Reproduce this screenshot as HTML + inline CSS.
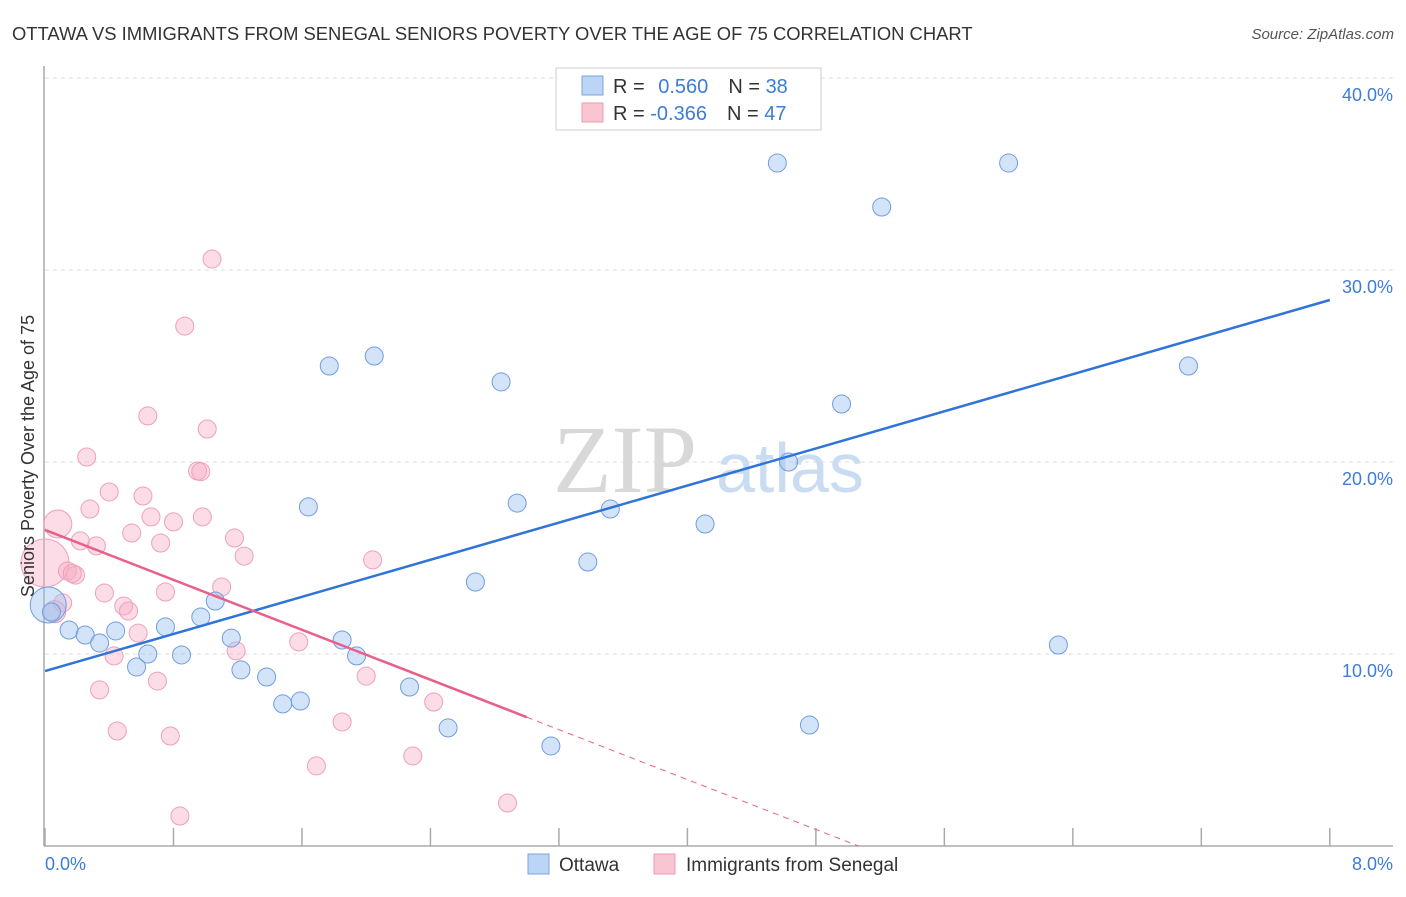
<!DOCTYPE html>
<html><head><meta charset="utf-8"><style>
body{margin:0;background:#fff;font-family:"Liberation Sans",sans-serif}
</style></head><body>
<svg width="1406" height="892" xmlns="http://www.w3.org/2000/svg" id="chart">
<text x="12" y="40" font-size="18.4" fill="#333">OTTAWA VS IMMIGRANTS FROM SENEGAL SENIORS POVERTY OVER THE AGE OF 75 CORRELATION CHART</text>
<text x="1394" y="39" font-size="15" fill="#555" font-style="italic" text-anchor="end">Source: ZipAtlas.com</text>
<g>
<text x="553" y="492" font-size="96" font-family="Liberation Serif,serif" fill="#d8d8d8">ZIP</text>
<text x="716" y="492" font-size="70" fill="#c9dcf2">atlas</text>
</g>
<g id="grid"></g>
<g id="axes"></g>
<g id="marks"></g>
<text transform="translate(34,456) rotate(-90)" font-size="18" fill="#333" text-anchor="middle">Seniors Poverty Over the Age of 75</text>
<g>
<rect x="556" y="68" width="265" height="62" fill="#fff" stroke="#ccc"/>
<rect x="582" y="76" width="21" height="19" fill="#bcd4f5" stroke="#7aa5e0"/>
<rect x="582" y="103" width="21" height="19" fill="#fac5d3" stroke="#ee9ab3"/>
<text x="613" y="93" font-size="20" fill="#333">R = <tspan fill="#3b7dd8" dx="8">0.560</tspan><tspan dx="20" fill="#333">N = </tspan><tspan fill="#3b7dd8">38</tspan></text>
<text x="613" y="120" font-size="20" fill="#333">R = <tspan fill="#3b7dd8">-0.366</tspan><tspan dx="20" fill="#333">N = </tspan><tspan fill="#3b7dd8">47</tspan></text>
</g>
<g>
<rect x="528" y="854" width="21" height="20" fill="#bcd4f5" stroke="#7aa5e0"/>
<text x="559" y="871" font-size="19" fill="#333">Ottawa</text>
<rect x="654" y="854" width="21" height="20" fill="#fac5d3" stroke="#ee9ab3"/>
<text x="686" y="871" font-size="19" fill="#333">Immigrants from Senegal</text>
</g>
<text x="45" y="870" font-size="18" fill="#3b7dd8">0.0%</text>
<text x="1393" y="870" font-size="18" fill="#3b7dd8" text-anchor="end">8.0%</text>
</svg>
<script>
const yTicks=[10,20,30,40];
const yTickLabels=["10.0%","20.0%","30.0%","40.0%"];
const xTicks=[0,0.8,1.6,2.4,3.2,4.0,4.8,5.6,6.4,7.2,8.0];
const ottawaX=[0.02,0.04,0.15,0.25,0.34,0.44,0.57,0.64,0.75,0.85,0.97,1.06,1.16,1.22,1.38,1.48,1.59,1.64,1.77,1.85,1.94,2.05,2.27,2.51,2.68,2.84,2.94,3.15,3.38,3.52,4.11,4.56,4.63,4.76,4.96,5.21,6.00,6.31,7.12];
const ottawaY=[12.55,12.19,11.25,10.99,10.57,11.20,9.32,10.0,11.41,9.95,11.93,12.76,10.83,9.17,8.80,7.40,7.55,17.66,25.0,10.73,9.90,25.52,8.28,6.15,13.75,24.17,17.86,5.21,14.79,17.55,16.77,35.57,20.0,6.30,23.02,33.28,35.57,10.47,25.0];
const ottawaR=[18,9,9,9,9,9,9,9,9,9,9,9,9,9,9,9,9,9,9,9,9,9,9,9,9,9,9,9,9,9,9,9,9,9,9,9,9,9,9];
const senegalX=[0.64,1.01,0.26,0.95,0.40,0.61,0.28,0.66,0.80,0.98,0.08,0.54,0.72,0.22,0.32,1.18,1.24,2.04,0.0,0.14,0.19,0.37,0.75,1.10,0.11,0.49,0.52,0.58,1.58,1.19,0.43,2.00,0.70,0.34,2.42,1.85,0.45,0.78,2.29,1.69,0.84,1.04,0.87,2.88,0.06,0.97,0.17];
const senegalY=[22.40,21.72,20.26,19.53,18.44,18.23,17.55,17.14,16.88,17.14,16.77,16.30,15.78,15.89,15.63,16.04,15.10,14.90,14.74,14.32,14.11,13.18,13.23,13.49,12.66,12.50,12.24,11.09,10.63,10.16,9.90,8.85,8.59,8.13,7.50,6.46,5.99,5.73,4.69,4.17,1.56,30.57,27.08,2.24,12.2,19.5,14.2];
const senegalR=[9,9,9,9,9,9,9,9,9,9,14,9,9,9,9,9,9,9,24,9,9,9,9,9,9,9,9,9,9,9,9,9,9,9,9,9,9,9,9,9,9,9,9,9,11,9,9];
const blueLine=[9.11,2.416];
const pinkLine=[16.46,-3.25,3.0];
const NS="http://www.w3.org/2000/svg";
const X=v=>45+v*160.6, Y=v=>846-v*19.2;
function mk(tag,attrs,parent){const e=document.createElementNS(NS,tag);for(const k in attrs)e.setAttribute(k,attrs[k]);document.getElementById(parent).appendChild(e);return e;}
yTicks.forEach((t,i)=>{
 const g=mk('line',{x1:45,x2:1393,y1:Y(t),y2:Y(t),stroke:'#ddd','stroke-dasharray':'4,4'},'grid');
 
 
 const l=mk('text',{x:1393,y:Y(t)+23,'font-size':18,fill:'#3b7dd8','text-anchor':'end'},'grid');
 l.textContent=yTickLabels[i];
 
 
});
const topGrid=mk('line',{x1:45,x2:1393,y1:78,y2:78,stroke:'#ddd','stroke-dasharray':'4,4'},'grid');


const ya=mk('line',{x1:44,x2:44,y1:66,y2:846,stroke:'#aaa','stroke-width':1.5},'axes');


const xa=mk('line',{x1:44,x2:1393,y1:846,y2:846,stroke:'#aaa','stroke-width':1.5},'axes');


xTicks.forEach(t=>{
 const k=mk('line',{x1:X(t),x2:X(t),y1:828,y2:846,stroke:'#aaa','stroke-width':1.5},'axes');
 
 
});
senegalX.forEach((v,i)=>{
 const c=mk('circle',{cx:X(v),cy:Y(senegalY[i]),r:senegalR[i],fill:'rgba(248,170,195,0.4)',stroke:'#eea0b8','stroke-width':1},'marks');
 
 
});
ottawaX.forEach((v,i)=>{
 const c=mk('circle',{cx:X(v),cy:Y(ottawaY[i]),r:ottawaR[i],fill:'rgba(160,195,240,0.45)',stroke:'#6f9de0','stroke-width':1},'marks');
 
 
});
const bl=mk('line',{x1:X(0),y1:Y(blueLine[0]),x2:X(8),y2:Y(blueLine[0]+8*blueLine[1]),stroke:'#2f74d6','stroke-width':2.5},'marks');


const xe=pinkLine[2];
const pl=mk('line',{x1:X(0),y1:Y(pinkLine[0]),x2:X(xe),y2:Y(pinkLine[0]+xe*pinkLine[1]),stroke:'#e8608a','stroke-width':2.5},'marks');


const x0=-pinkLine[0]/pinkLine[1];
const pd=mk('line',{x1:X(xe),y1:Y(pinkLine[0]+xe*pinkLine[1]),x2:X(x0),y2:Y(0),stroke:'#e8608a','stroke-width':1,'stroke-dasharray':'6,5'},'marks');


</script>
</body></html>
